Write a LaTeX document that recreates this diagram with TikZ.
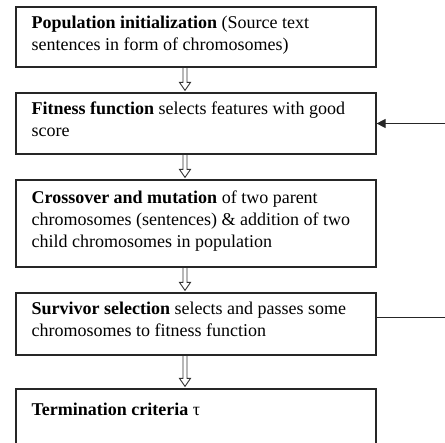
\documentclass[tikz,border=0pt]{standalone}
\usepackage{fontspec}
\setmainfont{Liberation Serif}
\usetikzlibrary{calc,arrows.meta}
\tikzset{
  stagebox/.style={draw=black!85, line width=1.2pt, minimum width=360pt, inner sep=0pt},
  stagetext/.style={anchor=north west, inner sep=0pt, align=left,
    font=\fontsize{18}{22}\selectfont},
  hollow/.style={draw=black!80, line width=0.9pt, line join=miter},
  link/.style={draw=black!85, line width=1pt},
}
\newcommand{\hollowarrow}[2]{%
  \draw[hollow] ($(#1.south)+(-13,0)$) -- ($(#2.north)+(-13,-10)$) -- ($(#2.north)+(-16.5,-10)$)
    -- ($(#2.north)+(-11,-2)$) -- ($(#2.north)+(-5.5,-10)$) -- ($(#2.north)+(-9,-10)$)
    -- ($(#1.south)+(-9,0)$);}
\begin{document}
\begin{tikzpicture}[x=1pt,y=-1pt]
\useasboundingbox (0,0) rectangle (445,443);
\clip (0,0) rectangle (445,443);
\node[stagebox, minimum height=60pt] (b1) at (196,37) {};
\node[stagebox, minimum height=61pt] (b2) at (196,123.5) {};
\node[stagebox, minimum height=87pt] (b3) at (196,223.5) {};
\node[stagebox, minimum height=62pt] (b4) at (196,324) {};
\node[stagebox, minimum height=81pt] (b5) at (196,429.5) {};
\node[stagetext] (t1) at ($(b1.north west)+(16,6.6)$) {\strut\textbf{Population initialization} (Source text\\sentences in form of chromosomes)};
\node[stagetext] (t2) at ($(b2.north west)+(16,6.6)$) {\strut\textbf{Fitness function} selects features with good\\score};
\node[stagetext] (t3) at ($(b3.north west)+(16,8.6)$) {\strut\textbf{Crossover and mutation} of two parent\\chromosomes (sentences) \& addition of two\\child chromosomes in population};
\node[stagetext] (t4) at ($(b4.north west)+(16,6.6)$) {\strut\textbf{Survivor selection} selects and passes some\\chromosomes to fitness function};
\node[stagetext] (t5) at ($(b5.north west)+(16,11.6)$) {\strut\textbf{Termination criteria} τ};
\hollowarrow{b1}{b2}
\hollowarrow{b2}{b3}
\hollowarrow{b3}{b4}
\hollowarrow{b4}{b5}
\coordinate (r4) at (445,318);
\coordinate (r2) at (445,123.5);
\draw[link] (b4.east |- r4) -- (r4);
\draw[link, -{Triangle[length=9pt,width=9pt]}] (r2) -- (b2.east);
\end{tikzpicture}
\end{document}
